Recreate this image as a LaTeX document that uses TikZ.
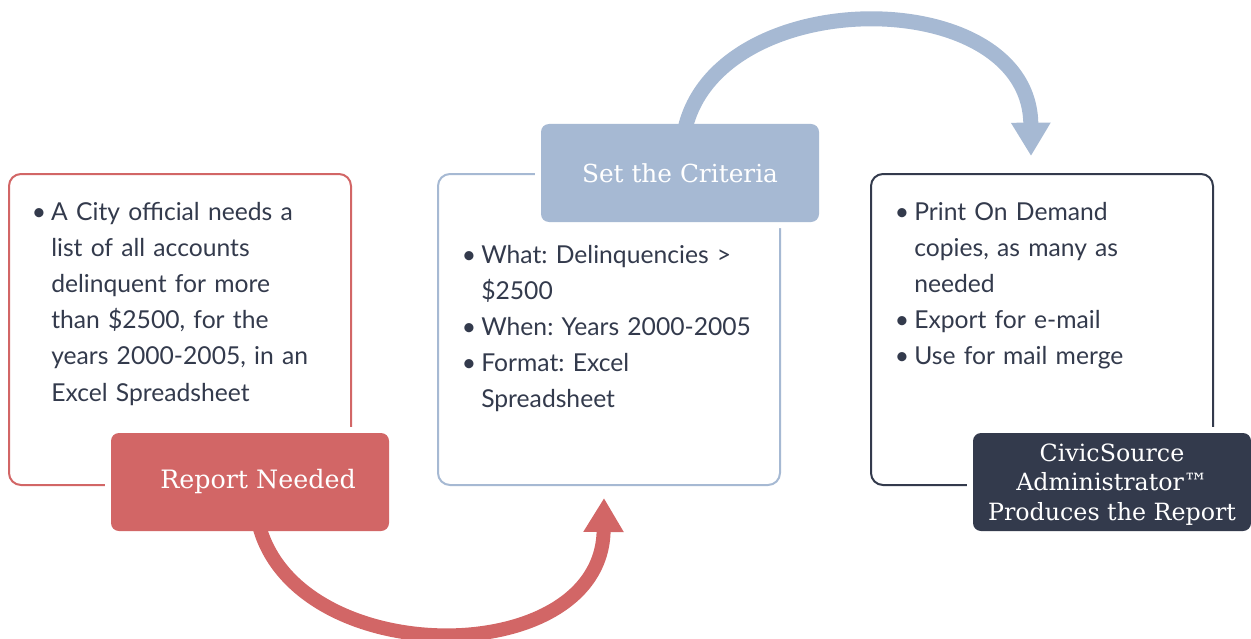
\documentclass[tikz,border=0pt]{standalone}
\usepackage{fontspec}
\setmainfont{Lato}
\newfontfamily\labelfont{DejaVu Serif}
\usetikzlibrary{arrows.meta}
\definecolor{cred}{RGB}{210,102,102}
\definecolor{cblue}{RGB}{166,185,211}
\definecolor{cdark}{RGB}{51,58,76}
\newcommand\bitm{\makebox[10.5pt][l]{\hspace*{-4pt}\textbullet}}
\newcommand\contln{\hspace*{10.5pt}}
\frenchspacing
\begin{document}
\begin{tikzpicture}[x=0.75pt,y=-0.75pt,
  outline/.style={draw, line width=1.5pt, rounded corners=9pt, minimum width=256.5pt, minimum height=233.25pt, inner sep=0pt},
  tag/.style={rounded corners=6pt, minimum width=208.5pt, minimum height=73.5pt, inner sep=0pt, text=white, align=center, preaction={draw=white, line width=9pt}},
  tagfont/.style={font=\labelfont\fontsize{19}{22.1}\selectfont},
  body/.style={anchor=base west, text width=240pt, align=left, inner sep=0pt, text=cdark, font=\frenchspacing\fontsize{18.5}{27.15}\selectfont},
]
\useasboundingbox (0,0) rectangle (1251,638);
% outlines
\node[outline, draw=cred]  (b1) at (180,329.5) {};
\node[outline, draw=cblue] (b2) at (609,329.5) {};
\node[outline, draw=cdark] (b3) at (1042,329.5) {};
% body text
\node[body] (t1) at (37,220) {\bitm A City official needs a\\\contln list of all accounts\\\contln delinquent for more\\\contln than \$2500, for the\\\contln years 2000-2005, in an\\\contln Excel Spreadsheet};
\node[body] (t2) at (467,263) {\bitm What: Delinquencies >\\\contln \$2500\\\bitm When: Years 2000-2005\\\bitm Format: Excel\\\contln Spreadsheet};
\node[body] (t3) at (900,220) {\bitm Print On Demand\\\contln copies, as many as\\\contln needed\\\bitm Export for e-mail\\\bitm Use for mail merge};
% labels
\node[tag, tagfont, fill=cred]  (l1) at (250,482) {\hspace*{12pt}Report Needed};
\node[tag, font=\labelfont\fontsize{18.6}{22.1}\selectfont, text=white, fill=cblue] (l2) at (680,173) {Set the Criteria};
\node[tag, fill=cdark, font=\labelfont\fontsize{17.8}{22.1}\selectfont] (l3) at (1112,482) {\rule{0pt}{17pt}CivicSource\\Administrator™\\Produces the Report};
% arrows
\coordinate (e1) at (604,498);
\coordinate (e2) at (1031,156);
\draw[draw=cred, line width=10.5pt, -{Triangle[width=28.5pt,length=25.5pt]}] (l1.south -| 258,0) ++(0,-10) .. controls (292,672) and (602,672) .. (e1);
\draw[draw=cblue, line width=11.25pt, -{Triangle[width=28pt,length=25pt]}] (l2.north -| 684,0) ++(0,10) .. controls (712,-18) and (1030,-18) .. (e2);
\end{tikzpicture}
\end{document}
